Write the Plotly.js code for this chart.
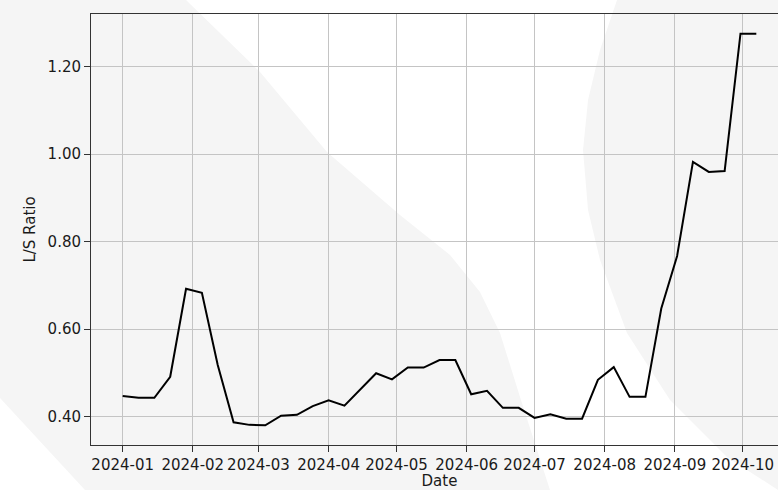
<!DOCTYPE html>
<html>
<head>
<meta charset="utf-8">
<script src="https://cdn.plot.ly/plotly-3.0.1.min.js"></script>
<style>
html,body{margin:0;padding:0;overflow:hidden;background:#fff;}
#chart{width:800px;height:490px;}
</style>
</head>
<body>
<div id="chart"></div>
<script>
// ---- data ----
const dates = [
  "2024-01-01","2024-01-08","2024-01-15","2024-01-22","2024-01-29",
  "2024-02-05","2024-02-12","2024-02-19","2024-02-26","2024-03-04",
  "2024-03-11","2024-03-18","2024-03-25","2024-04-01","2024-04-08",
  "2024-04-15","2024-04-22","2024-04-29","2024-05-06","2024-05-13",
  "2024-05-20","2024-05-27","2024-06-03","2024-06-10","2024-06-17",
  "2024-06-24","2024-07-01","2024-07-08","2024-07-15","2024-07-22",
  "2024-07-29","2024-08-05","2024-08-12","2024-08-19","2024-08-26",
  "2024-09-02","2024-09-09","2024-09-16","2024-09-23","2024-09-30",
  "2024-10-07"
];
const lsRatio = [
  0.447,0.443,0.443,0.491,0.692,
  0.683,0.518,0.387,0.381,0.380,
  0.402,0.404,0.424,0.437,0.425,
  0.461,0.499,0.485,0.512,0.512,
  0.529,0.529,0.451,0.459,0.420,
  0.420,0.397,0.405,0.395,0.395,
  0.484,0.513,0.445,0.445,0.647,
  0.767,0.982,0.959,0.961,1.275,
  1.275
];
const xTickVals = ["2024-01-01","2024-02-01","2024-03-01","2024-04-01","2024-05-01",
                   "2024-06-01","2024-07-01","2024-08-01","2024-09-01","2024-10-01"];
const xTickText = ["2024-01","2024-02","2024-03","2024-04","2024-05",
                   "2024-06","2024-07","2024-08","2024-09","2024-10"];
const yTickVals = [0.4,0.6,0.8,1.0,1.2];

// ---- background watermark (decoration, pixel outline -> paper coords) ----
const PL = 91, PR = 788, PT = 14, PB = 445;
function toPath(pts){
  return pts.map((p,i)=>{
    const x = (p[0]-PL)/(PR-PL), y = (PB-p[1])/(PB-PT);
    return (i?'L':'M') + x.toFixed(4) + ',' + y.toFixed(4);
  }).join(' ') + ' Z';
}
const wmLeft = [[0,0],[186,0],[260,72],[327,152],[400,215],[450,255],[480,292],
                [500,333],[520,397],[550,490],[85,490],[0,398]];
const wmRight = [[617,0],[600,50],[588,100],[583,150],[588,210],[600,260],[627,333],
                 [670,400],[727,457],[778,490],[800,490],[800,0]];
const wmShape = pts => ({type:'path', xref:'paper', yref:'paper', layer:'below',
  path: toPath(pts), fillcolor:'#f5f5f5', line:{width:0}});

const FONT = {family:'DejaVu Sans, sans-serif', size:15, color:'#1a1a1a'};

const trace = {
  x: dates, y: lsRatio, type:'scatter', mode:'lines',
  line:{color:'#000', width:2}, hoverinfo:'skip'
};

const layout = {
  width:800, height:490,
  margin:{l:PL, r:800-PR, t:PT, b:490-PB, pad:0},
  paper_bgcolor:'#fff', plot_bgcolor:'rgba(0,0,0,0)',
  font: FONT,
  showlegend:false,
  shapes:[wmShape(wmLeft), wmShape(wmRight)],
  xaxis:{
    type:'date', range:['2023-12-18','2024-10-21'],
    tickmode:'array', tickvals:xTickVals, ticktext:xTickText,
    ticks:'outside', ticklen:6, tickwidth:1, tickcolor:'#333',
    showline:true, linecolor:'#333', linewidth:1, mirror:true,
    showgrid:true, gridcolor:'#c4c4c4', gridwidth:1, zeroline:false,
    tickfont:FONT, automargin:false,
    title:{text:'Date', font:FONT, standoff:7}
  },
  yaxis:{
    range:[0.335,1.32],
    tickmode:'array', tickvals:yTickVals, tickformat:'.2f',
    ticks:'outside', ticklen:6, tickwidth:1, tickcolor:'#333',
    showline:true, linecolor:'#333', linewidth:1, mirror:true,
    showgrid:true, gridcolor:'#c4c4c4', gridwidth:1, zeroline:false,
    tickfont:FONT, automargin:false,
    title:{text:'L/S Ratio', font:FONT, standoff:8}
  }
};

Plotly.newPlot('chart', [trace], layout, {staticPlot:true, displayModeBar:false});
</script>
</body>
</html>
